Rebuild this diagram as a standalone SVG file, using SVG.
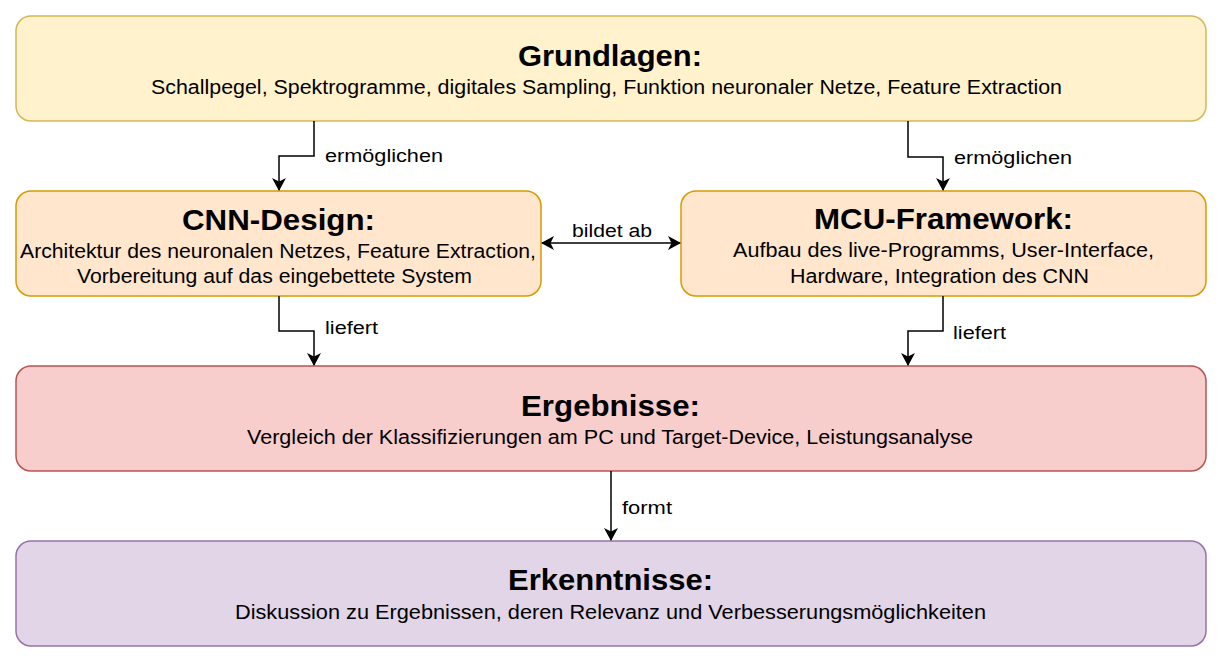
<svg xmlns="http://www.w3.org/2000/svg" width="1222" height="662" viewBox="0 0 1222 662">
<style>
.box{stroke-width:1.5}
.t{font-family:"Liberation Sans",Arial,sans-serif;font-weight:bold;font-size:30px;fill:#000}
.s{font-family:"Liberation Sans",Arial,sans-serif;font-size:20px;fill:#000}
.l{font-family:"Liberation Sans",Arial,sans-serif;font-size:18px;fill:#000}
.c{fill:none;stroke:#000;stroke-width:1.5}
</style>
<defs>
<marker id="ah" viewBox="0 0 13 14" refX="12" refY="7" markerWidth="13" markerHeight="14" markerUnits="userSpaceOnUse" orient="auto-start-reverse">
<path d="M0,0 L13,7 L0,14 L3.5,7 Z" fill="#000"/>
</marker>
</defs>
<rect width="1222" height="662" fill="#fff"/>
<g id="grundlagen">
<rect class="box" x="16" y="16" width="1190" height="105" rx="15" fill="#fff2cc" stroke="#d6b656"/>
<text class="t" x="518" y="66" textLength="184" lengthAdjust="spacingAndGlyphs">Grundlagen:</text>
<text class="s" x="151" y="94" textLength="911" lengthAdjust="spacingAndGlyphs">Schallpegel, Spektrogramme, digitales Sampling, Funktion neuronaler Netze, Feature Extraction</text>
</g>
<g id="cnn">
<rect class="box" x="16" y="191" width="525" height="105" rx="15" fill="#ffe6cc" stroke="#d79b00"/>
<text class="t" x="182" y="230" textLength="193" lengthAdjust="spacingAndGlyphs">CNN-Design:</text>
<text class="s" x="20" y="258" textLength="516" lengthAdjust="spacingAndGlyphs">Architektur des neuronalen Netzes, Feature Extraction,</text>
<text class="s" x="77" y="283" textLength="395" lengthAdjust="spacingAndGlyphs">Vorbereitung auf das eingebettete System</text>
</g>
<g id="mcu">
<rect class="box" x="681" y="191" width="525" height="105" rx="15" fill="#ffe6cc" stroke="#d79b00"/>
<text class="t" x="814" y="229" textLength="259" lengthAdjust="spacingAndGlyphs">MCU-Framework:</text>
<text class="s" x="733" y="257" textLength="421" lengthAdjust="spacingAndGlyphs">Aufbau des live-Programms, User-Interface,</text>
<text class="s" x="790" y="283" textLength="299" lengthAdjust="spacingAndGlyphs">Hardware, Integration des CNN</text>
</g>
<g id="ergebnisse">
<rect class="box" x="16" y="366" width="1190" height="105" rx="15" fill="#f8cecc" stroke="#b85450"/>
<text class="t" x="521" y="416" textLength="179" lengthAdjust="spacingAndGlyphs">Ergebnisse:</text>
<text class="s" x="247" y="444" textLength="726" lengthAdjust="spacingAndGlyphs">Vergleich der Klassifizierungen am PC und Target-Device, Leistungsanalyse</text>
</g>
<g id="erkenntnisse">
<rect class="box" x="16" y="541" width="1190" height="105" rx="15" fill="#e1d5e7" stroke="#9673a6"/>
<text class="t" x="508" y="590" textLength="205" lengthAdjust="spacingAndGlyphs">Erkenntnisse:</text>
<text class="s" x="235" y="619" textLength="751" lengthAdjust="spacingAndGlyphs">Diskussion zu Ergebnissen, deren Relevanz und Verbesserungsmöglichkeiten</text>
</g>
<g id="connectors">
<path class="c" d="M314,121 V156 H279 V190" marker-end="url(#ah)"/>
<text class="l" x="325" y="162" textLength="118" lengthAdjust="spacingAndGlyphs">ermöglichen</text>
<path class="c" d="M908,121 V157 H943 V190" marker-end="url(#ah)"/>
<text class="l" x="954" y="164" textLength="118" lengthAdjust="spacingAndGlyphs">ermöglichen</text>
<path class="c" d="M542,243 H680" marker-start="url(#ah)" marker-end="url(#ah)"/>
<text class="l" x="572" y="237" textLength="80" lengthAdjust="spacingAndGlyphs">bildet ab</text>
<path class="c" d="M279,296 V331 H314 V365" marker-end="url(#ah)"/>
<text class="l" x="325" y="334" textLength="53" lengthAdjust="spacingAndGlyphs">liefert</text>
<path class="c" d="M943,296 V331 H908 V365" marker-end="url(#ah)"/>
<text class="l" x="953" y="339" textLength="53" lengthAdjust="spacingAndGlyphs">liefert</text>
<path class="c" d="M611,471 V540" marker-end="url(#ah)"/>
<text class="l" x="622" y="514" textLength="50" lengthAdjust="spacingAndGlyphs">formt</text>
</g>
</svg>
